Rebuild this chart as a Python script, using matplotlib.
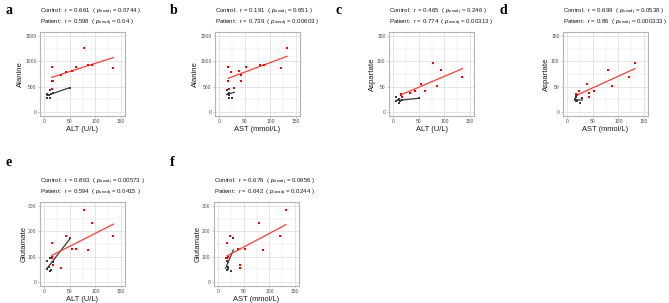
import numpy as np
import matplotlib
matplotlib.use("Agg")
import matplotlib.pyplot as plt

# ---------------- data ----------------
# Patients
ALT_p = [15, 16, 18, 15, 33, 43, 54, 63, 78, 85, 93, 135]
AST_p = [18, 18, 43, 20, 43, 23, 40, 53, 132, 87, 79, 121]
Ala_p = [881, 613, 605, 447, 725, 798, 804, 887, 1257, 932, 925, 862]
Asp_p = [35, 33, 30, 34, 37, 42, 55, 42, 96, 52, 82, 70]
Glu_p = [155, 95, 68, 100, 55, 181, 132, 132, 283, 127, 231, 181]
# Controls
ALT_c = [50, 12, 6, 9, 17, 7, 12, 14]
AST_c = [30, 15, 17, 19, 19, 19, 25, 17]
Ala_c = [480, 434, 357, 338, 370, 287, 274, 350]
Asp_c = [28, 25, 29, 23, 24, 21, 19, 22]
Glu_c = [175, 94, 85, 61, 80, 51, 42, 48]

panel_letters = ["a", "b", "c", "d", "e", "f"]
x_names = ["ALT (U/L)", "AST (mmol/L)", "ALT (U/L)", "AST (mmol/L)", "ALT (U/L)", "AST (mmol/L)"]
y_names = ["Alanine", "Alanine", "Aspartate", "Aspartate", "Glutamate", "Glutamate"]
control_r = ["0.661", "0.191", "0.465", "0.699", "0.863", "0.676"]
control_p = ["0.0744", "0.651", "0.246", "0.0538", "0.00573", "0.0656"]
patient_r = ["0.598", "0.739", "0.774", "0.86", "0.594", "0.642"]
patient_p = ["0.04", "0.00603", "0.00313", "0.000333", "0.0415", "0.0244"]
x_ticks = [0, 50, 100, 150]
y_ticks_list = [[0, 500, 1000, 1500], [0, 500, 1000, 1500],
                [0, 50, 100, 150], [0, 50, 100, 150],
                [0, 100, 200, 300], [0, 100, 200, 300]]

xs_p = [ALT_p, AST_p, ALT_p, AST_p, ALT_p, AST_p]
ys_p = [Ala_p, Ala_p, Asp_p, Asp_p, Glu_p, Glu_p]
xs_c = [ALT_c, AST_c, ALT_c, AST_c, ALT_c, AST_c]
ys_c = [Ala_c, Ala_c, Asp_c, Asp_c, Glu_c, Glu_c]

# ---------------- layout ----------------
W, H = 669, 303
fig = plt.figure(figsize=(W / 100, H / 100), dpi=100)
plt.rcParams['font.family'] = ['Liberation Sans', 'DejaVu Sans']
plt.rcParams['mathtext.fontset'] = 'custom'
plt.rcParams['mathtext.rm'] = 'Liberation Sans'
plt.rcParams['mathtext.it'] = 'Liberation Sans:italic'

# axes boxes in pixels: (left, top, width, height)
boxes = [(40, 32, 85, 84), (215, 32, 85, 84), (389, 32, 85, 84), (563, 32, 85, 84),
         (40, 202, 85, 84), (214, 202, 85, 84)]
letter_pos = [(5, 10), (170, 10), (335, 10), (500, 10), (5, 163), (170, 163)]

grid_c = "#E0E0E0"
border_c = "#B3B3B3"
red = "#FF0000"
red_line = "#FF3B3B"
dark = "#3A3A3A"

for i in range(6):
    l, t, w, h = boxes[i]
    ax = fig.add_axes([l / W, 1 - (t + h) / H, w / W, h / H])
    yt = y_ticks_list[i]
    ymax = yt[-1]
    ax.set_xlim(-7.5, 157.5)
    ax.set_ylim(-0.05 * ymax, 1.05 * ymax)
    ax.set_xticks(x_ticks)
    ax.set_yticks(yt)
    ax.set_xticks([25, 75, 125], minor=True)
    ax.set_yticks([(yt[k] + yt[k + 1]) / 2 for k in range(3)], minor=True)
    ax.grid(True, which='major', color=grid_c, linewidth=0.6)
    ax.grid(True, which='minor', color=grid_c, linewidth=0.3)
    ax.set_axisbelow(True)
    for s in ax.spines.values():
        s.set_color(border_c)
        s.set_linewidth(0.8)
    ax.tick_params(which='major', length=1.5, width=0.5, color=border_c,
                   labelsize=3.6, labelcolor="#4D4D4D", pad=1)
    ax.tick_params(which='minor', length=0)

    xp = np.array(xs_p[i], float); yp = np.array(ys_p[i], float)
    xc = np.array(xs_c[i], float); yc = np.array(ys_c[i], float)

    # regression lines over data range
    for xx, yy, col in ((xc, yc, dark), (xp, yp, red_line)):
        b1, b0 = np.polyfit(xx, yy, 1)
        xl = np.array([xx.min(), xx.max()])
        ax.plot(xl, b0 + b1 * xl, color=col, linewidth=0.9, zorder=3)
    ax.scatter(xc, yc, s=3, color=dark, marker='s', linewidths=0, zorder=4)
    ax.scatter(xp, yp, s=4, color=red, marker='s', linewidths=0, zorder=4)

    ax.set_xlabel(x_names[i], fontsize=5.4, color="#1A1A1A", labelpad=1)
    ax.set_ylabel(y_names[i], fontsize=5.6, color="#1A1A1A", labelpad=0.5)

    # annotation lines
    fig.text(l / W, 1 - (t - 20) / H,
             r"Control:  r = %s  ( $p_{\mathrm{unadj}}$ = %s )" % (control_r[i], control_p[i]),
             fontsize=4.4, ha='left', va='center', color="#1A1A1A")
    fig.text(l / W, 1 - (t - 9) / H,
             r"Patient:  r = %s  ( $p_{\mathrm{unadj}}$ = %s )" % (patient_r[i], patient_p[i]),
             fontsize=4.4, ha='left', va='center', color="#1A1A1A")

    lx, ly = letter_pos[i]
    fig.text(lx / W, 1 - ly / H, panel_letters[i], fontsize=10, fontweight='bold',
             family=['Liberation Serif', 'DejaVu Serif'], ha='left', va='center')

fig.savefig("out.png", dpi=100, facecolor="white")
